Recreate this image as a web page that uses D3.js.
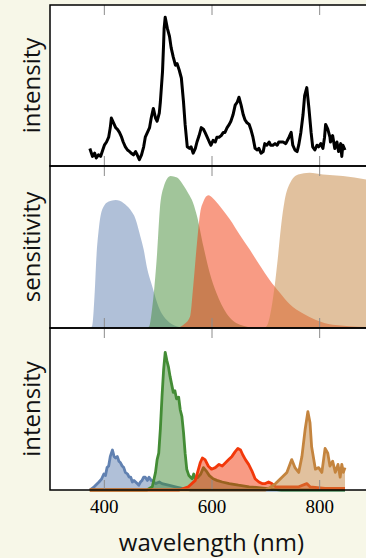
<!DOCTYPE html>
<html>
<head>
<meta charset="utf-8">
<script src="https://cdn.jsdelivr.net/npm/d3@7"></script>
<style>
  body { margin: 0; background: #f7f7e8; }
  svg { display: block; }
</style>
</head>
<body>
<div id="chart"></div>
<script>
// measured spectrum (top panel)
const spectrumWl = [374,379,383,386,390,394,398,401,405,409,412,414,418,422,425,429,433,436,440,444,448,451,455,459,462,466,470,474,477,481,485,488,492,496,499,503,505,509,511,512,514,518,522,525,529,533,536,540,544,548,551,555,559,562,566,570,573,577,581,585,588,592,596,599,603,607,610,614,618,622,625,629,633,636,640,644,648,651,655,659,662,666,670,673,677,681,685,688,692,696,699,703,707,710,714,718,722,725,729,733,738,744,748,751,755,759,762,766,770,773,777,781,785,788,792,796,799,803,807,810,812,816,820,821,825,829,833,836,840,842,844,848];
const spectrumI = [0.11,0.06,0.08,0.05,0.07,0.06,0.10,0.13,0.15,0.18,0.24,0.30,0.27,0.24,0.23,0.21,0.18,0.15,0.12,0.10,0.09,0.08,0.07,0.09,0.07,0.04,0.07,0.12,0.18,0.21,0.24,0.30,0.36,0.30,0.28,0.33,0.40,0.59,0.76,0.86,0.93,0.86,0.81,0.74,0.68,0.63,0.64,0.60,0.55,0.40,0.26,0.12,0.11,0.12,0.08,0.11,0.15,0.19,0.24,0.23,0.21,0.18,0.15,0.13,0.16,0.15,0.18,0.18,0.19,0.21,0.21,0.24,0.26,0.28,0.32,0.38,0.40,0.43,0.38,0.32,0.29,0.27,0.26,0.23,0.18,0.11,0.10,0.11,0.08,0.09,0.14,0.13,0.15,0.13,0.13,0.14,0.13,0.15,0.15,0.15,0.14,0.18,0.21,0.13,0.10,0.09,0.13,0.21,0.32,0.44,0.49,0.36,0.21,0.12,0.10,0.13,0.12,0.14,0.11,0.18,0.26,0.23,0.18,0.15,0.19,0.11,0.15,0.09,0.14,0.06,0.13,0.10];

// sensitivity curves (middle panel), [wavelength, value]
const sensBlue = [[370,0],[378,0.01],[383,0.22],[386,0.43],[391,0.63],[397,0.74],[409,0.79],[422,0.80],[437,0.78],[449,0.74],[459,0.68],[468,0.57],[474,0.49],[480,0.38],[490,0.26],[502,0.13],[517,0.05],[536,0.01],[560,0]];
const sensGreen = [[478,0],[484,0.01],[490,0.13],[494,0.26],[499,0.47],[504,0.74],[511,0.88],[524,0.95],[536,0.94],[548,0.89],[557,0.84],[566,0.78],[573,0.70],[585,0.51],[597,0.34],[609,0.22],[628,0.09],[653,0.02],[683,0]];
const sensRed = [[535,0],[548,0.02],[560,0.07],[566,0.26],[573,0.53],[579,0.72],[585,0.79],[594,0.83],[603,0.81],[616,0.76],[634,0.68],[653,0.58],[671,0.49],[690,0.39],[708,0.30],[727,0.22],[745,0.15],[770,0.09],[794,0.05],[825,0.02],[900,0.005]];
const sensTan = [[695,0],[702,0.01],[714,0.18],[723,0.43],[729,0.63],[736,0.80],[745,0.90],[761,0.96],[782,0.97],[807,0.96],[844,0.95],[900,0.92]];

// filtered spectra (bottom panel), [wavelength, value]
const outBlue = [[374,0],[382,0.02],[391,0.05],[396,0.07],[400,0.10],[403,0.09],[406,0.14],[409,0.15],[412,0.21],[416,0.25],[419,0.21],[422,0.20],[425,0.21],[428,0.18],[431,0.17],[434,0.15],[437,0.14],[440,0.11],[444,0.10],[447,0.08],[450,0.08],[453,0.05],[456,0.06],[459,0.05],[462,0.04],[465,0.03],[468,0.05],[471,0.06],[474,0.08],[477,0.08],[481,0.06],[484,0.08],[488,0.06],[490,0.06],[496,0.04],[503,0.05],[508,0.04],[520,0.03],[533,0.02],[545,0.01],[560,0],[848,0]];
const outGreen = [[374,0],[480,0],[490,0.02],[496,0.11],[499,0.19],[502,0.23],[505,0.38],[508,0.58],[511,0.75],[514,0.86],[517,0.81],[520,0.77],[523,0.71],[526,0.66],[529,0.61],[532,0.62],[535,0.57],[539,0.58],[542,0.50],[545,0.46],[548,0.36],[551,0.23],[554,0.13],[558,0.09],[561,0.08],[564,0.07],[567,0.10],[570,0.07],[575,0.08],[580,0.10],[585,0.14],[590,0.12],[596,0.09],[603,0.07],[610,0.06],[620,0.05],[633,0.04],[650,0.03],[670,0.02],[700,0.01],[730,0],[848,0]];
const outRed = [[374,0],[540,0],[557,0.02],[570,0.06],[579,0.17],[583,0.20],[588,0.19],[594,0.15],[600,0.13],[607,0.14],[614,0.16],[620,0.15],[626,0.17],[632,0.19],[638,0.21],[644,0.24],[649,0.26],[654,0.25],[658,0.22],[663,0.19],[669,0.16],[675,0.12],[681,0.07],[688,0.05],[694,0.04],[700,0.04],[706,0.05],[712,0.04],[719,0.02],[737,0.02],[762,0.02],[777,0.04],[783,0.02],[811,0.01],[848,0.01]];
const outTan = [[374,0],[700,0],[706,0.01],[719,0.04],[731,0.08],[740,0.11],[749,0.19],[755,0.14],[762,0.11],[768,0.21],[774,0.38],[779,0.49],[783,0.42],[786,0.27],[793,0.13],[799,0.14],[805,0.11],[811,0.26],[816,0.23],[820,0.15],[825,0.18],[830,0.11],[835,0.16],[839,0.08],[842,0.16],[845,0.11],[848,0.14]];

const xTicks = [400, 600, 800];
const colors = ["#6181b1", "#438c35", "#f2380a", "#c4843e"];
const panelLabels = ["intensity", "sensitivity", "intensity"];

const width = 366, height = 558;
const panels = [ {top: 5, bottom: 166}, {top: 166, bottom: 328}, {top: 328, bottom: 490} ];
const labelFont = "'Open Sans', sans-serif";

const svg = d3.select("#chart")
  .append("svg")
  .attr("width", width)
  .attr("height", height);

const x = d3.scaleLinear().domain([300, 900]).range([50, 373]);

const yScales = panels.map(p => d3.scaleLinear().domain([0, 1]).range([p.bottom, p.bottom - 160]));

// panel backgrounds
panels.forEach(p => {
  svg.append("rect")
    .attr("x", 50).attr("y", p.top)
    .attr("width", 330).attr("height", p.bottom - p.top)
    .style("fill", "white");
});

// top: measured spectrum
const spec = spectrumWl.map((w, i) => [w, spectrumI[i]]);
svg.append("path")
  .datum(spec)
  .attr("d", d3.line().x(d => x(d[0])).y(d => yScales[0](d[1])))
  .style("fill", "none")
  .style("stroke", "black")
  .style("stroke-width", "3px")
  .style("stroke-linejoin", "round");

// middle: sensitivities
[sensBlue, sensGreen, sensRed, sensTan].forEach((s, i) => {
  svg.append("path")
    .datum(s)
    .attr("d", d3.area().curve(d3.curveMonotoneX)
      .x(d => x(d[0])).y0(yScales[1](0)).y1(d => yScales[1](d[1])))
    .style("fill", colors[i])
    .style("fill-opacity", 0.5);
});

// bottom: filtered spectra
[outBlue, outGreen, outRed, outTan].forEach((s, i) => {
  svg.append("path")
    .datum(s)
    .attr("d", d3.area().x(d => x(d[0])).y0(yScales[2](0)).y1(d => yScales[2](d[1])))
    .style("fill", colors[i])
    .style("fill-opacity", 0.5);
  svg.append("path")
    .datum(s)
    .attr("d", d3.line().x(d => x(d[0])).y(d => yScales[2](d[1])))
    .style("fill", "none")
    .style("stroke", colors[i])
    .style("stroke-width", "2.8px")
    .style("stroke-linejoin", "round");
});

// inward ticks on every panel edge
panels.forEach(p => {
  const tTop = svg.append("g")
    .attr("transform", "translate(0," + p.top + ")")
    .call(d3.axisBottom(x).tickValues(xTicks).tickSize(10).tickFormat(""));
  const tBot = svg.append("g")
    .attr("transform", "translate(0," + p.bottom + ")")
    .call(d3.axisTop(x).tickValues(xTicks).tickSize(10).tickFormat(""));
  [tTop, tBot].forEach(g => {
    g.select(".domain").remove();
    g.selectAll("line").style("stroke", "#8c8c8c").style("stroke-width", "1px");
  });
});

// panel frames
panels.forEach(p => {
  svg.append("rect")
    .attr("x", 50).attr("y", p.top)
    .attr("width", 330).attr("height", p.bottom - p.top)
    .style("fill", "none")
    .style("stroke", "black")
    .style("stroke-width", "1.5px");
});

// tick labels
const xa = svg.append("g")
  .attr("transform", "translate(0,490)")
  .call(d3.axisBottom(x).tickValues(xTicks).tickSize(0).tickPadding(10));
xa.select(".domain").remove();
xa.selectAll("text")
  .style("font-family", "'Liberation Serif', serif")
  .style("font-size", "19px")
  .style("fill", "black");

svg.append("text")
  .attr("x", x(600))
  .attr("y", 551)
  .attr("text-anchor", "middle")
  .style("font-family", labelFont)
  .style("font-size", "24px")
  .style("fill", "#111")
  .text("wavelength (nm)");

panelLabels.forEach((t, i) => {
  const cy = (panels[i].top + panels[i].bottom) / 2;
  svg.append("text")
    .attr("transform", "translate(40," + cy + ") rotate(-90)")
    .attr("text-anchor", "middle")
    .style("font-family", labelFont)
    .style("font-size", "24px")
    .style("fill", "#111")
    .text(t);
});
</script>
</body>
</html>
